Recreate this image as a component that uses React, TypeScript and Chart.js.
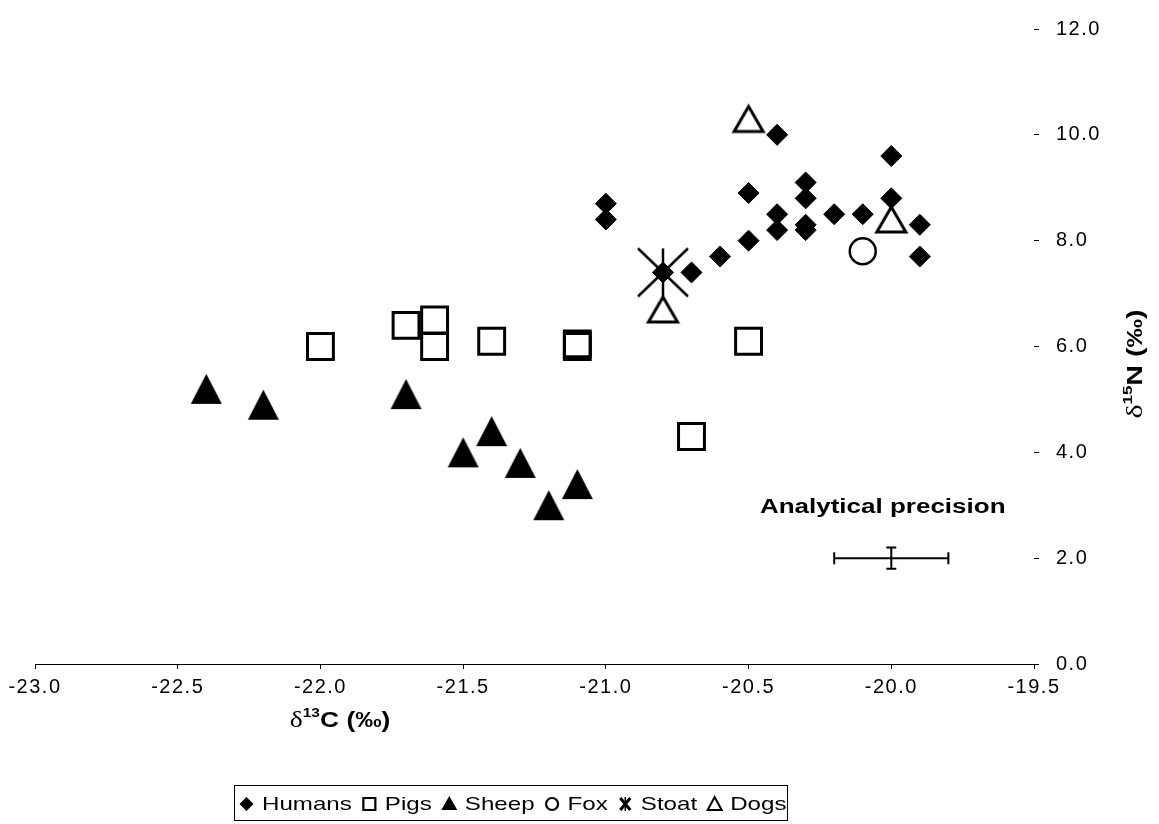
import React, { useEffect, useRef } from "react";
import { Chart, registerables } from "chart.js";

Chart.register(...registerables);

// ---- data ----
const humansX = [-21.0, -21.0, -20.8, -20.7, -20.6, -20.5, -20.5, -20.4, -20.4, -20.4, -20.3, -20.3, -20.3, -20.3, -20.2, -20.1, -20.0, -20.0, -19.9, -19.9];
const humansY = [8.7, 8.4, 7.4, 7.4, 7.7, 8.0, 8.9, 10.0, 8.5, 8.2, 9.1, 8.8, 8.3, 8.2, 8.5, 8.5, 9.6, 8.8, 8.3, 7.7];
const pigsX = [-22.0, -21.7, -21.6, -21.6, -21.4, -21.1, -21.1, -20.7, -20.5];
const pigsY = [6.0, 6.4, 6.5, 6.0, 6.1, 6.0, 6.05, 4.3, 6.1];
const sheepX = [-22.4, -22.2, -21.7, -21.5, -21.4, -21.3, -21.2, -21.1];
const sheepY = [5.2, 4.9, 5.1, 4.0, 4.4, 3.8, 3.0, 3.4];
const foxX = [-20.1];
const foxY = [7.8];
const stoatX = [-20.8];
const stoatY = [7.4];
const dogsX = [-20.8, -20.5, -20.0];
const dogsY = [6.7, 10.3, 8.4];

const seriesNames = ["Humans", "Pigs", "Sheep", "Fox", "Stoat", "Dogs"];

// analytical precision error bar
const precisionX = [-20.0];
const precisionY = [2.0];
const precisionErrX = [0.2];
const precisionErrY = [0.2];
const precisionLabel = "Analytical precision";
const precisionLabelPos = [-20.03, 2.95];

// axes
const xMin = -23.0;
const xMax = -19.5;
const xStep = 0.5;
const yMin = 0;
const yMax = 12;
const yStep = 2;

const SANS = "'Liberation Sans', Arial, Helvetica, sans-serif";
const SERIF = "'Liberation Serif', 'Times New Roman', serif";
const STRETCH = 1.3;

const toPoints = (xs: number[], ys: number[]) => xs.map((x, i) => ({ x, y: ys[i] }));

function triangleMarker(w: number, h: number, filled: boolean, lw: number) {
  const m = Math.ceil(lw) + 1;
  const c = document.createElement("canvas");
  c.width = w + 2 * m;
  c.height = h + 2 * m;
  const ctx = c.getContext("2d")!;
  ctx.beginPath();
  ctx.moveTo(m + w / 2, m);
  ctx.lineTo(m + w, m + h);
  ctx.lineTo(m, m + h);
  ctx.closePath();
  if (filled) {
    ctx.fillStyle = "#000";
    ctx.fill();
  } else {
    ctx.fillStyle = "#fff";
    ctx.fill();
    ctx.lineWidth = lw;
    ctx.lineJoin = "miter";
    ctx.strokeStyle = "#000";
    ctx.stroke();
  }
  return c;
}

function starMarker(w: number, h: number, lw: number) {
  const m = 2;
  const c = document.createElement("canvas");
  c.width = w + 2 * m;
  c.height = h + 2 * m;
  const ctx = c.getContext("2d")!;
  ctx.strokeStyle = "#000";
  ctx.lineWidth = lw;
  ctx.beginPath();
  ctx.moveTo(m + w / 2, m);
  ctx.lineTo(m + w / 2, m + h);
  ctx.moveTo(m, m);
  ctx.lineTo(m + w, m + h);
  ctx.moveTo(m + w, m);
  ctx.lineTo(m, m + h);
  ctx.stroke();
  return c;
}

function stretchedText(ctx: CanvasRenderingContext2D, text: string, x: number, y: number, font: string, sx: number, align: "left" | "center") {
  ctx.save();
  ctx.font = font;
  const w = ctx.measureText(text).width * sx;
  const left = align === "center" ? x - w / 2 : x;
  ctx.translate(left, y);
  ctx.scale(sx, 1);
  ctx.textAlign = "left";
  ctx.fillStyle = "#000";
  ctx.fillText(text, 0, 0);
  ctx.restore();
  return w;
}

type Part = { t: string; font: string; dy: number };

function drawParts(ctx: CanvasRenderingContext2D, parts: Part[], sx: number) {
  let total = 0;
  const widths = parts.map((p) => {
    ctx.font = p.font;
    const w = ctx.measureText(p.t).width;
    total += w;
    return w;
  });
  ctx.save();
  ctx.scale(sx, 1);
  let x = -total / 2;
  ctx.fillStyle = "#000";
  ctx.textBaseline = "alphabetic";
  ctx.textAlign = "left";
  parts.forEach((p, i) => {
    ctx.font = p.font;
    ctx.fillText(p.t, x, p.dy);
    x += widths[i];
  });
  ctx.restore();
}

const overlayPlugin = {
  id: "overlay",
  beforeDraw(chart: any) {
    chart.ctx.letterSpacing = "1.5px";
  },
  afterDatasetsDraw(chart: any) {
    const ctx: CanvasRenderingContext2D = chart.ctx;
    const xs = chart.scales.x;
    const ys = chart.scales.y;
    ctx.save();
    ctx.letterSpacing = "0px";
    ctx.strokeStyle = "#000";
    ctx.lineWidth = 2;
    precisionX.forEach((px, i) => {
      const cx = xs.getPixelForValue(px);
      const cy = ys.getPixelForValue(precisionY[i]);
      const x0 = xs.getPixelForValue(px - precisionErrX[i]);
      const x1 = xs.getPixelForValue(px + precisionErrX[i]);
      const y0 = ys.getPixelForValue(precisionY[i] - precisionErrY[i]);
      const y1 = ys.getPixelForValue(precisionY[i] + precisionErrY[i]);
      ctx.beginPath();
      ctx.moveTo(x0, cy);
      ctx.lineTo(x1, cy);
      ctx.moveTo(x0, cy - 6);
      ctx.lineTo(x0, cy + 6);
      ctx.moveTo(x1, cy - 6);
      ctx.lineTo(x1, cy + 6);
      ctx.moveTo(cx, y0);
      ctx.lineTo(cx, y1);
      ctx.moveTo(cx - 5, y0);
      ctx.lineTo(cx + 5, y0);
      ctx.moveTo(cx - 5, y1);
      ctx.lineTo(cx + 5, y1);
      ctx.stroke();
    });
    ctx.textBaseline = "middle";
    stretchedText(ctx, precisionLabel, xs.getPixelForValue(precisionLabelPos[0]), ys.getPixelForValue(precisionLabelPos[1]), `bold 20px ${SANS}`, STRETCH, "center");
    ctx.restore();
  },
  afterDraw(chart: any) {
    const ctx: CanvasRenderingContext2D = chart.ctx;
    ctx.save();
    ctx.letterSpacing = "0px";
    // x title
    ctx.save();
    ctx.translate(340, 727);
    drawParts(ctx, [
      { t: "δ", font: `23px ${SERIF}`, dy: 0 },
      { t: "13", font: `bold 13px ${SANS}`, dy: -10 },
      { t: "C (‰)", font: `bold 22px ${SANS}`, dy: 0 },
    ], 1.2);
    ctx.restore();
    // y title
    ctx.save();
    ctx.translate(1142, 364);
    ctx.rotate(-Math.PI / 2);
    drawParts(ctx, [
      { t: "δ", font: `23px ${SERIF}`, dy: 0 },
      { t: "15", font: `bold 13px ${SANS}`, dy: -10 },
      { t: "N (‰)", font: `bold 22px ${SANS}`, dy: 0 },
    ], 1.3);
    ctx.restore();

    // legend
    const boxL = 234, boxT = 785, boxR = 787, boxB = 820;
    ctx.strokeStyle = "#000";
    ctx.lineWidth = 1;
    ctx.strokeRect(boxL + 0.5, boxT + 0.5, boxR - boxL, boxB - boxT);
    const cy = 804;
    let x = 240;
    const font = `19px ${SANS}`;
    ctx.textBaseline = "middle";
    seriesNames.forEach((name, i) => {
      const mw = 13;
      const mx = x + mw / 2;
      ctx.fillStyle = "#000";
      ctx.strokeStyle = "#000";
      ctx.beginPath();
      if (i === 0) {
        ctx.moveTo(mx, cy - 7);
        ctx.lineTo(mx + 7, cy);
        ctx.lineTo(mx, cy + 7);
        ctx.lineTo(mx - 7, cy);
        ctx.closePath();
        ctx.fill();
      } else if (i === 1) {
        ctx.lineWidth = 2.2;
        ctx.rect(mx - 6, cy - 6, 12, 12);
        ctx.stroke();
      } else if (i === 2) {
        ctx.moveTo(mx, cy - 8);
        ctx.lineTo(mx + 8, cy + 6);
        ctx.lineTo(mx - 8, cy + 6);
        ctx.closePath();
        ctx.fill();
      } else if (i === 3) {
        ctx.lineWidth = 2.2;
        ctx.arc(mx, cy, 6, 0, Math.PI * 2);
        ctx.stroke();
      } else if (i === 4) {
        ctx.lineWidth = 3;
        ctx.moveTo(mx - 5, cy - 6);
        ctx.lineTo(mx + 5, cy + 6);
        ctx.moveTo(mx + 5, cy - 6);
        ctx.lineTo(mx - 5, cy + 6);
        ctx.stroke();
        ctx.lineWidth = 1.5;
        ctx.beginPath();
        ctx.moveTo(mx, cy - 7);
        ctx.lineTo(mx, cy + 7);
        ctx.stroke();
      } else {
        ctx.lineWidth = 2;
        ctx.moveTo(mx, cy - 7);
        ctx.lineTo(mx + 7, cy + 6);
        ctx.lineTo(mx - 7, cy + 6);
        ctx.closePath();
        ctx.stroke();
      }
      const tw = stretchedText(ctx, name, x + mw + 9, cy + 1, font, 1.27, "left");
      x = x + mw + 9 + tw + 11;
    });
    ctx.restore();
  },
};

export default function App() {
  const ref = useRef<HTMLCanvasElement | null>(null);

  useEffect(() => {
    const canvas = ref.current;
    if (!canvas) return;
    const sheepMarker = triangleMarker(31, 30, true, 0);
    const dogMarker = triangleMarker(29, 25, false, 3);
    const stoatMarker = starMarker(50, 48, 2.5);

    const tickFont = { family: SANS, size: 20 };

    const chart = new Chart(canvas, {
      type: "scatter",
      data: {
        datasets: [
          {
            label: seriesNames[0],
            data: toPoints(humansX, humansY),
            pointStyle: "rectRot",
            pointRadius: 10.5,
            backgroundColor: "#000",
            borderColor: "#000",
            borderWidth: 1,
          },
          {
            label: seriesNames[1],
            data: toPoints(pigsX, pigsY),
            pointStyle: "rect",
            pointRadius: 18.3,
            backgroundColor: "rgba(0,0,0,0)",
            borderColor: "#000",
            borderWidth: 3,
          },
          {
            label: seriesNames[2],
            data: toPoints(sheepX, sheepY),
            pointStyle: sheepMarker as any,
            backgroundColor: "#000",
            borderColor: "#000",
          },
          {
            label: seriesNames[3],
            data: toPoints(foxX, foxY),
            pointStyle: "circle",
            pointRadius: 13,
            backgroundColor: "rgba(0,0,0,0)",
            borderColor: "#000",
            borderWidth: 2.5,
          },
          {
            label: seriesNames[4],
            data: toPoints(stoatX, stoatY),
            pointStyle: stoatMarker as any,
            backgroundColor: "#000",
            borderColor: "#000",
          },
          {
            label: seriesNames[5],
            data: toPoints(dogsX, dogsY),
            pointStyle: dogMarker as any,
            backgroundColor: "#fff",
            borderColor: "#000",
          },
        ],
      },
      options: {
        responsive: false,
        animation: false,
        devicePixelRatio: 1,
        events: [],
        layout: { padding: { left: 35, top: 20, right: 0, bottom: 0 } },
        plugins: {
          legend: { display: false },
          tooltip: { enabled: false },
          title: { display: false },
        },
        scales: {
          x: {
            type: "linear",
            min: xMin,
            max: xMax,
            afterFit: (s: any) => {
              s.height = 160;
            },
            ticks: {
              stepSize: xStep,
              autoSkip: false,
              maxRotation: 0,
              color: "#000",
              font: tickFont,
              padding: 6,
              callback: (v: any) => Number(v).toFixed(1),
            },
            grid: {
              display: true,
              drawOnChartArea: false,
              drawTicks: true,
              tickLength: 5,
              color: "#000",
              lineWidth: 1,
            },
            border: { display: true, color: "#000", width: 1 },
          },
          y: {
            type: "linear",
            position: "right",
            min: yMin,
            max: yMax,
            afterFit: (s: any) => {
              s.width = 125;
            },
            ticks: {
              stepSize: yStep,
              color: "#000",
              font: tickFont,
              padding: 17,
              callback: (v: any) => Number(v).toFixed(1),
            },
            grid: {
              display: true,
              drawOnChartArea: false,
              drawTicks: true,
              tickLength: 5,
              color: "#000",
              lineWidth: 1,
            },
            border: { display: false },
          },
        },
      } as any,
      plugins: [overlayPlugin],
    });
    return () => chart.destroy();
  }, []);

  return (
    <div style={{ position: "fixed", left: 0, top: 0, width: 1159, height: 824, background: "#fff" }}>
      <canvas ref={ref} width={1159} height={824} style={{ display: "block", width: 1159, height: 824 }} />
    </div>
  );
}
